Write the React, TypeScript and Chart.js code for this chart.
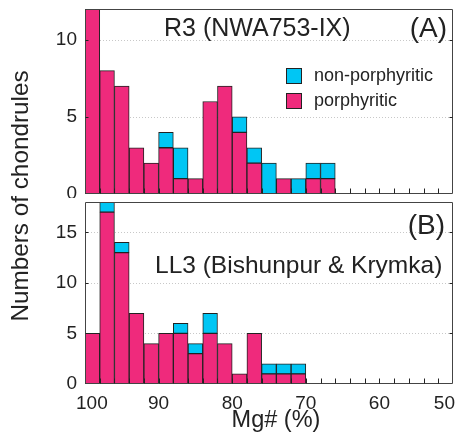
import React, { useEffect, useRef } from "react";
import { Chart, registerables } from "chart.js";
Chart.register(...registerables);

// ---- data ----
const binCentersA = [99, 97, 95, 93, 91, 89, 87, 85, 83, 81, 79, 77, 75, 73, 71, 69, 67];
const porphA = [12, 8, 7, 3, 2, 3, 1, 1, 6, 7, 4, 2, 0, 1, 0, 1, 1];
const nonPorphA = [0, 0, 0, 0, 0, 1, 2, 0, 0, 0, 1, 1, 2, 0, 1, 1, 1];

const binCentersB = [99, 97, 95, 93, 91, 89, 87, 85, 83, 81, 79, 77, 75, 73, 71];
const porphB = [5, 17, 13, 7, 4, 5, 5, 3, 5, 4, 1, 5, 1, 1, 1];
const nonPorphB = [0, 1, 1, 0, 0, 0, 1, 1, 2, 0, 0, 0, 1, 1, 1];

const xTickValues = [100, 90, 80, 70, 60, 50];
const yTicksA = [0, 5, 10];
const yTicksB = [0, 5, 10, 15];
const X_MIN = 50;
const X_MAX = 100;
const BIN_WIDTH = 2;
const Y_MAX_A = 12;
const Y_MAX_B = 18;

const seriesNames = ["porphyritic", "non-porphyritic"];

// ---- styles ----
const FONT = "'Liberation Sans', Arial, Helvetica, sans-serif";
const PINK = "#EF2A7C";
const CYAN = "#00C6F4";
const EDGE = "#222222";
const FRAME = "#444444";
const TEXT = "#222222";

const toPoints = (xs: number[], ys: number[]) =>
  xs.map((x, i) => ({ x, y: ys[i] === 0 ? null : ys[i] }));

const zeroPad = (s: any) => {
  s.paddingTop = 0;
  s.paddingBottom = 0;
  s.paddingLeft = 0;
  s.paddingRight = 0;
};

const panelPlugin = {
  id: "panelDeco",
  beforeDatasetsDraw(chart: any, _a: any, opts: any) {
    const { ctx, chartArea: ca, scales } = chart;
    ctx.save();
    ctx.strokeStyle = "#c8c8c8";
    ctx.lineWidth = 1;
    ctx.setLineDash([1, 2]);
    for (const v of opts.yTicks) {
      if (v === 0) continue;
      const y = Math.round(scales.y.getPixelForValue(v)) + 0.5;
      ctx.beginPath();
      ctx.moveTo(ca.left, y);
      ctx.lineTo(ca.right, y);
      ctx.stroke();
    }
    ctx.restore();
  },
  afterDraw(chart: any, _a: any, opts: any) {
    const { ctx, chartArea: ca, scales } = chart;
    ctx.save();
    ctx.setLineDash([]);
    ctx.lineWidth = 1;
    // frame
    const l = Math.round(ca.left) + 0.5;
    const r = Math.round(ca.right) - 0.5;
    const t = Math.round(ca.top) + 0.5;
    const b = Math.round(ca.bottom) - 0.5;
    ctx.strokeStyle = FRAME;
    ctx.beginPath();
    ctx.moveTo(l, t);
    ctx.lineTo(r, t);
    ctx.lineTo(r, b);
    ctx.lineTo(l, b);
    ctx.closePath();
    ctx.stroke();
    // x ticks (inward)
    ctx.strokeStyle = "#222";
    for (let v = X_MIN + BIN_WIDTH; v < X_MAX; v += BIN_WIDTH) {
      const x = Math.round(scales.x.getPixelForValue(v)) + 0.5;
      ctx.beginPath();
      ctx.moveTo(x, b);
      ctx.lineTo(x, b - 5);
      ctx.stroke();
    }
    // y ticks (inward, both sides)
    for (const v of opts.yTicks) {
      if (v === 0) continue;
      const y = Math.round(scales.y.getPixelForValue(v)) + 0.5;
      ctx.beginPath();
      ctx.moveTo(l, y);
      ctx.lineTo(l + 3, y);
      ctx.moveTo(r, y);
      ctx.lineTo(r - 3, y);
      ctx.stroke();
    }

    ctx.fillStyle = TEXT;
    ctx.textBaseline = "alphabetic";
    // x tick labels (kept inside the frame's extent like the reference)
    if (opts.xLabels) {
      ctx.font = `19px ${FONT}`;
      ctx.textAlign = "center";
      for (const v of xTickValues) {
        const label = String(v);
        const w = ctx.measureText(label).width;
        let cx = scales.x.getPixelForValue(v);
        cx = Math.max(cx, ca.left - 9 + w / 2);
        cx = Math.min(cx, ca.right + 2 - w / 2);
        ctx.fillText(label, cx, ca.bottom + 24.5);
      }
    }
    // title
    ctx.font = `${opts.titleSize}px ${FONT}`;
    ctx.textAlign = "left";
    ctx.fillText(opts.title, opts.titleX, opts.titleY);
    // panel label
    ctx.font = `${opts.labelSize}px ${FONT}`;
    ctx.textAlign = "right";
    ctx.fillText(opts.label, opts.labelX, opts.labelY);
    // legend
    if (opts.legend) {
      const items = [
        { name: seriesNames[1], color: CYAN },
        { name: seriesNames[0], color: PINK },
      ];
      ctx.font = `18px ${FONT}`;
      ctx.textAlign = "left";
      ctx.textBaseline = "middle";
      items.forEach((it, i) => {
        const bx = 286;
        const by = 68 + i * 25;
        ctx.fillStyle = it.color;
        ctx.fillRect(bx, by, 16, 16);
        ctx.strokeStyle = EDGE;
        ctx.lineWidth = 1;
        ctx.strokeRect(bx + 0.5, by + 0.5, 15, 15);
        ctx.fillStyle = TEXT;
        ctx.fillText(it.name, 314, by + 8.5);
      });
    }
    // x title
    if (opts.xTitle) {
      ctx.font = `${opts.xTitleSize}px ${FONT}`;
      ctx.textAlign = "center";
      ctx.textBaseline = "alphabetic";
      ctx.fillStyle = TEXT;
      ctx.fillText(opts.xTitle, opts.xTitleX, opts.xTitleY);
    }
    ctx.restore();
  },
};

function makeConfig(
  centers: number[],
  porph: number[],
  nonPorph: number[],
  yMax: number,
  yTicks: number[],
  showX: boolean,
  padding: any,
  deco: any
): any {
  return {
    type: "bar",
    data: {
      datasets: [
        {
          label: seriesNames[0],
          data: toPoints(centers, porph),
          backgroundColor: PINK,
          borderColor: EDGE,
          borderWidth: 1,
          borderSkipped: false,
          barPercentage: 1,
          categoryPercentage: 1,
        },
        {
          label: seriesNames[1],
          data: toPoints(centers, nonPorph),
          backgroundColor: CYAN,
          borderColor: EDGE,
          borderWidth: 1,
          borderSkipped: false,
          barPercentage: 1,
          categoryPercentage: 1,
        },
      ],
    },
    options: {
      animation: false,
      responsive: false,
      maintainAspectRatio: false,
      layout: { padding, autoPadding: false },
      plugins: {
        legend: { display: false },
        tooltip: { enabled: false },
        panelDeco: deco,
      },
      scales: {
        x: {
          type: "linear",
          min: X_MIN,
          max: X_MAX,
          reverse: true,
          stacked: true,
          offset: false,
          display: showX,
          grid: { display: false, drawTicks: false },
          border: { display: false },
          afterBuildTicks: (s: any) => {
            s.ticks = xTickValues.map((v) => ({ value: v }));
          },
          afterFit: (s: any) => {
            s.height = showX ? 60 : 0;
            zeroPad(s);
          },
          ticks: {
            display: false,
            padding: 8,
            color: TEXT,
            font: { family: FONT, size: 19 },
            maxRotation: 0,
            autoSkip: false,
          },
        },
        y: {
          type: "linear",
          min: 0,
          max: yMax,
          stacked: true,
          grid: { display: false, drawTicks: false },
          border: { display: false },
          afterBuildTicks: (s: any) => {
            s.ticks = yTicks.map((v) => ({ value: v }));
          },
          afterFit: (s: any) => {
            s.width = 85;
            zeroPad(s);
          },
          ticks: {
            padding: 8,
            color: TEXT,
            font: { family: FONT, size: 19 },
          },
        },
      },
    },
    plugins: [panelPlugin],
  };
}

export default function App() {
  const refA = useRef<HTMLCanvasElement | null>(null);
  const refB = useRef<HTMLCanvasElement | null>(null);

  useEffect(() => {
    const a = new Chart(
      refA.current as HTMLCanvasElement,
      makeConfig(
        binCentersA,
        porphA,
        nonPorphA,
        Y_MAX_A,
        yTicksA,
        false,
        { top: 9, right: 4, bottom: 4, left: 0 },
        {
          yTicks: yTicksA,
          title: "R3 (NWA753-IX)",
          titleSize: 25,
          titleX: 164,
          titleY: 36,
          label: "(A)",
          labelSize: 28,
          labelX: 447,
          labelY: 37,
          legend: true,
          xLabels: false,
        }
      )
    );
    const b = new Chart(
      refB.current as HTMLCanvasElement,
      makeConfig(
        binCentersB,
        porphB,
        nonPorphB,
        Y_MAX_B,
        yTicksB,
        true,
        { top: 4, right: 4, bottom: 0, left: 0 },
        {
          yTicks: yTicksB,
          title: "LL3 (Bishunpur & Krymka)",
          titleSize: 24.5,
          titleX: 155,
          titleY: 75,
          label: "(B)",
          labelSize: 28,
          labelX: 445,
          labelY: 36,
          legend: false,
          xLabels: true,
          xTitle: "Mg# (%)",
          xTitleSize: 23.5,
          xTitleX: 276,
          xTitleY: 229,
        }
      )
    );
    return () => {
      a.destroy();
      b.destroy();
    };
  }, []);

  return (
    <div
      style={{
        position: "absolute",
        left: 0,
        top: 0,
        width: 457,
        height: 444,
        background: "#fff",
        overflow: "hidden",
      }}
    >
      <canvas
        ref={refA}
        width={457}
        height={198}
        style={{ position: "absolute", left: 0, top: 0, width: 457, height: 198 }}
      />
      <canvas
        ref={refB}
        width={457}
        height={246}
        style={{ position: "absolute", left: 0, top: 198, width: 457, height: 246 }}
      />
      <div
        style={{
          position: "absolute",
          left: 20 - 150,
          top: 196 - 14,
          width: 300,
          height: 28,
          lineHeight: "28px",
          textAlign: "center",
          transform: "rotate(-90deg)",
          fontFamily: FONT,
          fontSize: 24.3,
          color: TEXT,
          whiteSpace: "nowrap",
        }}
      >
        Numbers of chondrules
      </div>
    </div>
  );
}
